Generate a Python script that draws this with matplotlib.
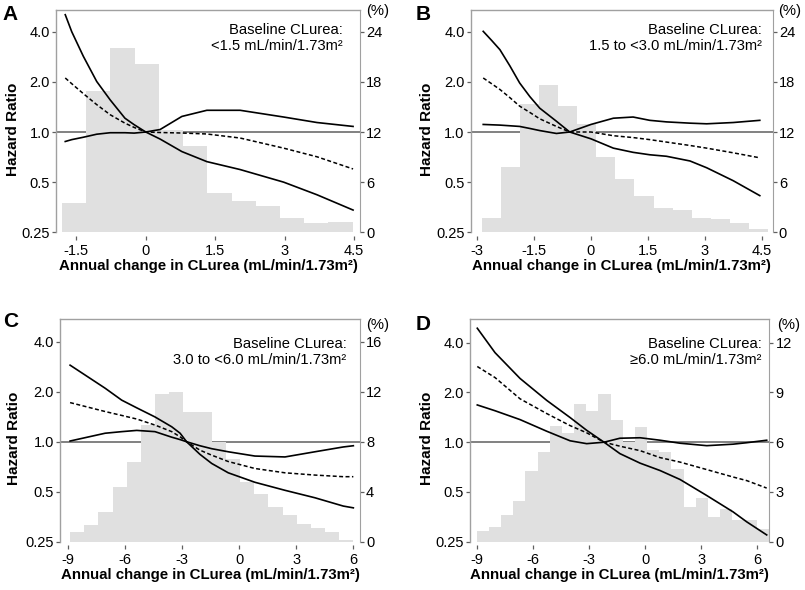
import numpy as np
import matplotlib
matplotlib.use("Agg")
import matplotlib.pyplot as plt
from matplotlib.ticker import NullLocator

plt.rcParams['font.family'] = ['Liberation Sans', 'DejaVu Sans']
plt.rcParams['axes.unicode_minus'] = False

# ---------------- data ----------------
# Panel A: baseline CLurea < 1.5
bins_a = np.linspace(-1.81, 4.47, 13)
pct_a = [3.55, 16.9, 22.05, 20.1, 12.24, 10.37, 4.67, 3.75, 3.15, 1.71, 1.08, 1.28]
x_a = [-1.74, -1.6, -1.35, -1.06, -0.77, -0.45, -0.25, 0, 0.31, 0.78, 1.32, 2.04, 2.98, 3.70, 4.48]
hr_a = [2.11, 1.95, 1.70, 1.46, 1.27, 1.13, 1.065, 1.0, 0.993, 0.986, 0.973, 0.92, 0.80, 0.71, 0.60]
lo_a = [0.877, 0.90, 0.93, 0.97, 0.99, 0.99, 0.985, 1.0, 0.907, 0.763, 0.664, 0.595, 0.50, 0.42, 0.34]
hi_a = [5.06, 4.0, 2.85, 2.01, 1.56, 1.21, 1.106, 1.0, 1.035, 1.24, 1.35, 1.35, 1.23, 1.14, 1.08]

# Panel B: baseline CLurea 1.5 to <3.0
bins_b = np.linspace(-2.88, 4.67, 16)
pct_b = [1.67, 7.78, 15.3, 17.66, 15.1, 12.96, 9.05, 6.38, 4.35, 2.95, 2.71, 1.67, 1.55, 1.16, 0.44]
x_b = [-2.84, -2.62, -2.40, -2.14, -1.88, -1.61, -1.35, -0.91, -0.56, 0, 0.59, 1.11, 1.55, 1.99, 2.61, 3.05, 3.75, 4.45]
hr_b = [2.11, 1.95, 1.80, 1.61, 1.43, 1.31, 1.20, 1.08, 1.0, 1.0, 0.95, 0.926, 0.90, 0.87, 0.83, 0.80, 0.75, 0.70]
lo_b = [1.11, 1.105, 1.10, 1.09, 1.08, 1.05, 1.02, 0.98, 1.0, 0.91, 0.80, 0.755, 0.73, 0.715, 0.67, 0.61, 0.51, 0.415]
hi_b = [4.02, 3.55, 3.12, 2.50, 1.97, 1.63, 1.39, 1.16, 1.0, 1.11, 1.21, 1.23, 1.175, 1.15, 1.13, 1.12, 1.14, 1.175]

# Panel C: baseline CLurea 3.0 to <6.0
bins_c = np.linspace(-8.88, 6.0, 21)
pct_c = [0.75, 1.35, 2.35, 4.35, 6.35, 9.35, 11.8, 12.0, 10.4, 10.4,
         8.0, 6.6, 4.8, 3.8, 2.8, 2.13, 1.45, 1.1, 0.75, 0.16]
x_c = [-8.88, -7.04, -6.17, -5.38, -4.42, -3.54, -3.10, -2.76, -2.06, -1.44, -0.57, 0.83, 2.41, 3.98, 5.47, 6.0]
hr_c = [1.72, 1.52, 1.44, 1.37, 1.26, 1.15, 1.07, 1.0, 0.89, 0.83, 0.76, 0.69, 0.65, 0.63, 0.616, 0.616]
lo_c = [1.01, 1.125, 1.15, 1.17, 1.15, 1.065, 1.03, 1.0, 0.84, 0.74, 0.65, 0.57, 0.51, 0.46, 0.41, 0.40]
hi_c = [2.89, 2.10, 1.78, 1.60, 1.41, 1.23, 1.125, 1.0, 0.946, 0.908, 0.87, 0.82, 0.81, 0.87, 0.93, 0.946]

# Panel D: baseline CLurea >= 6.0
bins_d = np.linspace(-9.03, 6.61, 25)
pct_d = [0.66, 0.9, 1.64, 2.46, 4.26, 5.44, 7.0, 6.54, 8.3, 7.9, 8.9, 7.34,
         6.0, 6.9, 5.54, 5.44, 4.4, 2.1, 2.66, 1.5, 1.95, 1.3, 1.3, 0.75]
x_d = [-9.0, -8.05, -6.71, -5.28, -4.03, -3.14, -2.21, -1.36, -0.28, 0.79, 1.86, 3.29, 4.70, 5.43, 6.50]
hr_d = [2.87, 2.46, 1.83, 1.49, 1.26, 1.14, 1.0, 0.946, 0.889, 0.807, 0.758, 0.683, 0.616, 0.586, 0.528]
lo_d = [1.68, 1.55, 1.37, 1.165, 1.02, 0.98, 1.0, 0.853, 0.747, 0.674, 0.595, 0.476, 0.379, 0.33, 0.275]
hi_d = [4.89, 3.48, 2.43, 1.79, 1.41, 1.18, 1.0, 1.057, 1.064, 1.028, 0.986, 0.953, 0.973, 0.993, 1.028]

hr_ticks = [0.25, 0.5, 1.0, 2.0, 4.0]
hr_labels = ['0.25', '0.5', '1.0', '2.0', '4.0']

W, H = 805, 590
fig = plt.figure(figsize=(W / 100, H / 100), dpi=100)

SPINE = '#a0a0a0'
TICK = '#606060'
FS = 10.5


def px_rect(l, t, r, b):
    return [l / W, 1 - b / H, (r - l) / W, (b - t) / H]


def panel(box, xlim, hr_lim, per_doubling, xticks, pticks, bins, pct, x, hr, lo, hi, ylab_px):
    ax = fig.add_axes(px_rect(*box))
    ax.set_yscale('log', base=2)
    ax.set_ylim(hr_lim)
    ax.set_xlim(xlim)
    ax.yaxis.set_minor_locator(NullLocator())
    ax.set_yticks(hr_ticks)
    ax.set_yticklabels(hr_labels)
    ax.set_xticks(xticks)
    ax.set_xticklabels([('%g' % v) for v in xticks])
    ax.axhline(1.0, color='#777777', lw=1.3, zorder=1)
    for s in ['right', 'bottom']:
        ax.spines[s].set_visible(False)
    for s in ['left', 'top']:
        ax.spines[s].set_color(SPINE)
        ax.spines[s].set_linewidth(1.0)
    ax.spines['left'].set_bounds(0.25, hr_lim[1])
    ax.tick_params(axis='both', colors=TICK, labelcolor='black', labelsize=FS,
                   length=3.2, width=0.9)
    ax.tick_params(axis='y', pad=1.2)
    ax.tick_params(axis='x', pad=2.5)
    ax.set_xlabel('Annual change in CLurea (mL/min/1.73m²)', fontsize=10.8,
                  fontweight='bold', labelpad=1)
    ax.set_ylabel('Hazard Ratio', fontsize=11, fontweight='bold')
    width_px = box[2] - box[0]
    ax.yaxis.set_label_coords((ylab_px - box[0]) / width_px, 0.47)

    # histogram on the percent axis
    ax2 = ax.twinx()
    p_lim = [per_doubling * (np.log2(v) + 2) for v in hr_lim]
    ax2.set_ylim(p_lim)
    ax2.stairs(pct, bins, fill=True, color='#e0e0e0', lw=0)
    ax2.set_yticks(pticks)
    for s in ['left', 'top', 'bottom']:
        ax2.spines[s].set_visible(False)
    ax2.spines['right'].set_color(SPINE)
    ax2.spines['right'].set_bounds(0, p_lim[1])
    ax2.tick_params(axis='y', colors=TICK, labelcolor='black', labelsize=FS,
                    length=3.2, width=0.9, pad=1.2)

    # curves on top
    ax3 = ax.twinx()
    ax3.set_yscale('log', base=2)
    ax3.set_ylim(hr_lim)
    ax3.set_yticks([])
    ax3.yaxis.set_minor_locator(NullLocator())
    for s in ax3.spines.values():
        s.set_visible(False)
    ax3.plot(x, hi, color='black', lw=1.2)
    ax3.plot(x, lo, color='black', lw=1.2)
    ax3.plot(x, hr, color='black', lw=1.1, dashes=(2.6, 1.6))
    return ax


panel((56, 10, 360, 235.7), (-1.94, 4.63), (0.2385, 5.40), 6,
      [-1.5, 0, 1.5, 3, 4.5], [0, 6, 12, 18, 24], bins_a, pct_a, x_a, hr_a, lo_a, hi_a, 20)
panel((470.7, 10, 772.7, 235.7), (-3.17, 4.79), (0.2385, 5.40), 6,
      [-3, -1.5, 0, 1.5, 3, 4.5], [0, 6, 12, 18, 24], bins_b, pct_b, x_b, hr_b, lo_b, hi_b, 433.5)
panel((60, 319, 360, 545), (-9.41, 6.35), (0.239, 5.48), 4,
      [-9, -6, -3, 0, 3, 6], [0, 4, 8, 12, 16], bins_c, pct_c, x_c, hr_c, lo_c, hi_c, 20.5)
panel((470, 319, 769.3, 545), (-9.39, 6.64), (0.239, 5.56), 3,
      [-9, -6, -3, 0, 3, 6], [0, 3, 6, 9, 12], bins_d, pct_d, x_d, hr_d, lo_d, hi_d, 433.5)


def ftext(px, py, s, **kw):
    fig.text(px / W, 1 - py / H, s, va='baseline', **kw)


for lab, px, py in [('A', 2, 20.5), ('B', 416, 19.5), ('C', 3, 327), ('D', 416, 330)]:
    ftext(px, py, lab, fontsize=15, fontweight='bold', ha='left')

notes = [(343, 34, '<1.5 mL/min/1.73m²'),
         (761.5, 34, '1.5 to <3.0 mL/min/1.73m²'),
         (346.5, 347.5, '3.0 to <6.0 mL/min/1.73m²'),
         (761.5, 347.5, '≥6.0 mL/min/1.73m²')]
for px, py, s in notes:
    ftext(px, py, 'Baseline CLurea:', fontsize=10.6, ha='right')
    ftext(px, py + 16.5, s, fontsize=10.6, ha='right')

for px, py in [(378, 15.5), (790, 15.5), (378, 328.5), (789, 328.5)]:
    ftext(px, py, '(%)', fontsize=10.6, ha='center')

fig.savefig('out.png', dpi=100)
